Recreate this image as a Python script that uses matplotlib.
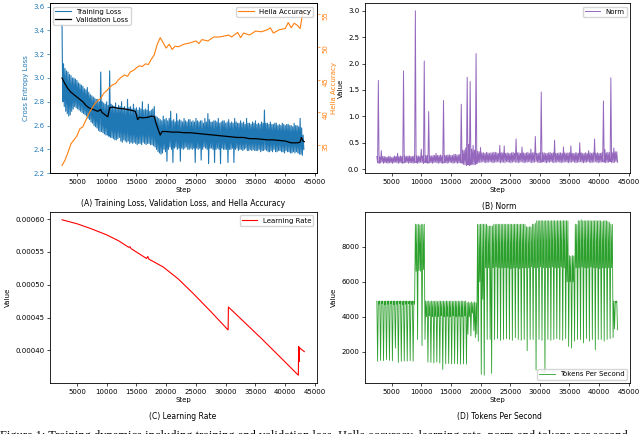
import numpy as np
import matplotlib
matplotlib.use("Agg")
import matplotlib.pyplot as plt
from matplotlib.ticker import MultipleLocator

# Logged metrics: "hi" samples at steps 2500, 2750, ... and "lo" samples 125 steps later.

# ---- (A) training loss
loss_hi = [
    3.45, 3.12, 3.08, 3.06, 3.05, 3.03, 3.02, 3.00,
    3.00, 2.99, 2.98, 2.96, 2.95, 2.94, 2.93, 2.91,
    2.90, 2.92, 2.88, 2.86, 2.85, 2.84, 2.83, 2.82,
    2.82, 2.80, 3.05, 2.80, 2.79, 2.78, 2.80, 2.77,
    3.06, 2.78, 2.77, 2.76, 2.79, 2.75, 2.77, 2.76,
    2.80, 2.75, 2.76, 2.74, 2.82, 2.75, 2.76, 2.74,
    2.78, 2.74, 2.75, 2.73, 2.75, 2.74, 2.80, 2.73,
    2.74, 2.73, 2.78, 2.72, 2.73, 2.74, 2.76, 2.68,
    2.67, 2.66, 2.65, 2.64, 2.68, 2.65, 2.66, 2.64,
    2.66, 2.72, 2.64, 2.65, 2.63, 2.70, 2.64, 2.65,
    2.64, 2.63, 2.66, 2.64, 2.63, 2.65, 2.65, 2.63,
    2.64, 2.63, 2.66, 2.64, 2.63, 2.64, 2.64, 2.62,
    2.66, 2.63, 2.70, 2.65, 2.63, 2.63, 2.64, 2.64,
    2.63, 2.66, 2.62, 2.63, 2.64, 2.64, 2.62, 2.63,
    2.65, 2.62, 2.63, 2.62, 2.66, 2.63, 2.62, 2.62,
    2.64, 2.62, 2.63, 2.61, 2.66, 2.62, 2.62, 2.61,
    2.63, 2.62, 2.64, 2.61, 2.62, 2.61, 2.63, 2.62,
    2.73, 2.62, 2.62, 2.61, 2.63, 2.61, 2.61, 2.62,
    2.62, 2.60, 2.61, 2.60, 2.62, 2.61, 2.60, 2.61,
    2.61, 2.60, 2.60, 2.59, 2.62, 2.60, 2.60, 2.59,
    2.66, 2.58, 2.52,
]
loss_lo = [
    2.80, 2.76, 2.72, 2.70, 2.68, 2.69, 2.72, 2.74,
    2.76, 2.75, 2.74, 2.73, 2.72, 2.71, 2.70, 2.69,
    2.68, 2.66, 2.65, 2.63, 2.62, 2.60, 2.59, 2.58,
    2.56, 2.55, 2.55, 2.54, 2.53, 2.52, 2.52, 2.51,
    2.50, 2.50, 2.49, 2.48, 2.48, 2.49, 2.50, 2.47,
    2.46, 2.48, 2.47, 2.46, 2.47, 2.45, 2.46, 2.45,
    2.46, 2.45, 2.44, 2.45, 2.45, 2.44, 2.46, 2.45,
    2.44, 2.45, 2.45, 2.44, 2.44, 2.43, 2.42, 2.40,
    2.38, 2.37, 2.36, 2.37, 2.40, 2.38, 2.30, 2.40,
    2.42, 2.40, 2.29, 2.41, 2.42, 2.40, 2.41, 2.30,
    2.41, 2.40, 2.41, 2.42, 2.40, 2.40, 2.41, 2.40,
    2.41, 2.29, 2.41, 2.40, 2.41, 2.31, 2.40, 2.42,
    2.41, 2.40, 2.28, 2.41, 2.41, 2.40, 2.29, 2.40,
    2.41, 2.40, 2.28, 2.41, 2.40, 2.40, 2.40, 2.29,
    2.40, 2.40, 2.41, 2.29, 2.40, 2.41, 2.39, 2.40,
    2.40, 2.39, 2.40, 2.41, 2.39, 2.39, 2.40, 2.39,
    2.40, 2.39, 2.39, 2.39, 2.40, 2.38, 2.39, 2.39,
    2.40, 2.39, 2.38, 2.38, 2.39, 2.38, 2.40, 2.38,
    2.38, 2.39, 2.39, 2.38, 2.38, 2.37, 2.39, 2.38,
    2.38, 2.37, 2.37, 2.38, 2.37, 2.38, 2.37, 2.36,
    2.36, 2.35, 2.40,
]

val_steps = [2500, 3000, 3500, 4000, 4500, 5000, 5500, 6000, 6500, 7000, 7500, 8000,
             8500, 9000, 9200, 9500, 10000, 10200, 10500, 11000, 12000, 13000, 14000,
             14800, 15000, 15200, 15500, 16000, 17000, 17500, 18000, 18300, 18700,
             19000, 19300, 20000, 21000, 22000, 23000, 24000, 25000, 26000, 27000,
             28000, 29000, 30000, 31000, 32000, 33000, 34000, 35000, 36000, 37000,
             38000, 39000, 40000, 41000, 42000, 42500, 42700, 43000, 43200]
val_loss = [3.00, 2.95, 2.91, 2.88, 2.86, 2.84, 2.82, 2.80, 2.77, 2.75, 2.74, 2.73,
            2.72, 2.735, 2.71, 2.70, 2.68, 2.675, 2.75, 2.755, 2.745, 2.74, 2.73,
            2.72, 2.69, 2.65, 2.67, 2.665, 2.67, 2.68, 2.675, 2.62, 2.56,
            2.52, 2.55, 2.55, 2.545, 2.545, 2.54, 2.54, 2.535, 2.53, 2.525,
            2.52, 2.515, 2.51, 2.505, 2.50, 2.50, 2.49, 2.49, 2.485, 2.48,
            2.48, 2.475, 2.47, 2.455, 2.455, 2.46, 2.50, 2.47, 2.465]

hella_steps = [2500, 3000, 3500, 4000, 4500, 5000, 5500, 6000, 6500, 7000, 7500, 8000,
               8500, 9000, 9500, 10000, 10500, 11000, 11500, 12000, 12500, 13000, 13500,
               14000, 14500, 15000, 15500, 16000, 16500, 17000, 17500, 18000, 18500,
               19000, 19500, 20000, 20500, 21000, 21500, 22000, 23000, 24000, 25000,
               25500, 26000, 27000, 28000, 29000, 30000, 30500, 31000, 32000, 32500,
               33000, 34000, 35000, 36000, 37000, 37500, 38000, 39000, 40000, 40500,
               41000, 41500, 42000, 42500, 43000]
hella_acc = [31.9, 32.7, 33.9, 35.2, 35.8, 36.4, 37.5, 37.8, 38.8, 39.8, 40.6, 41.3,
             41.8, 42.1, 42.9, 43.3, 43.8, 44.2, 44.4, 45.0, 45.4, 45.7, 45.5,
             46.2, 46.4, 46.8, 47.1, 47.0, 47.4, 47.3, 48.1, 48.8, 50.4,
             51.4, 50.6, 49.8, 50.4, 49.6, 50.1, 50.0, 50.4, 50.6, 50.9,
             50.5, 51.1, 50.9, 51.5, 51.5, 51.7, 51.8, 51.5, 52.2, 51.4,
             52.1, 51.8, 52.4, 52.3, 52.6, 52.9, 52.1, 52.6, 52.8, 53.7,
             52.9, 53.6, 53.3, 52.8, 55.5]

# ---- (B) norm
norm_hi = [
    0.24, 1.68, 0.23, 0.35, 0.24, 0.24, 0.23, 0.23,
    0.24, 0.24, 0.22, 0.23, 0.25, 0.24, 0.30, 0.24,
    0.25, 0.24, 1.86, 0.25, 0.24, 0.25, 0.25, 0.24,
    0.24, 0.25, 3.00, 0.25, 0.25, 0.24, 0.38, 0.25,
    2.05, 0.26, 0.26, 1.09, 0.25, 0.25, 0.26, 0.26,
    0.30, 0.26, 0.26, 0.27, 0.25, 1.30, 0.26, 0.26,
    0.27, 0.27, 0.26, 0.26, 0.28, 0.28, 0.27, 0.27,
    0.28, 1.23, 0.36, 0.36, 0.40, 1.74, 0.47, 1.66,
    0.38, 0.45, 0.36, 2.19, 0.34, 0.33, 0.41, 0.31,
    0.31, 0.30, 0.32, 0.31, 0.30, 0.31, 0.31, 0.32,
    0.32, 0.31, 0.30, 0.45, 0.31, 0.31, 0.44, 0.30,
    0.31, 0.30, 0.30, 0.31, 0.32, 0.30, 0.57, 0.31,
    0.31, 0.30, 0.42, 0.31, 0.30, 0.31, 0.32, 0.30,
    0.38, 0.31, 0.31, 0.62, 0.30, 0.30, 0.31, 1.46,
    0.31, 0.31, 0.30, 0.30, 0.31, 0.32, 0.30, 0.31,
    0.55, 0.30, 0.30, 0.31, 0.31, 0.30, 0.42, 0.31,
    0.30, 0.31, 0.31, 0.44, 0.30, 0.30, 0.31, 0.31,
    0.30, 0.50, 0.31, 0.30, 0.30, 0.31, 0.30, 0.35,
    0.31, 0.30, 0.31, 0.57, 0.30, 0.31, 0.30, 0.30,
    0.31, 1.29, 0.37, 0.31, 0.32, 0.31, 1.73, 0.31,
    0.40, 0.33, 0.33,
]
norm_lo = [
    0.12, 0.11, 0.12, 0.13, 0.11, 0.12, 0.12, 0.11,
    0.12, 0.12, 0.11, 0.12, 0.13, 0.12, 0.11, 0.12,
    0.12, 0.11, 0.12, 0.12, 0.13, 0.11, 0.12, 0.12,
    0.11, 0.12, 0.12, 0.11, 0.12, 0.13, 0.12, 0.11,
    0.12, 0.12, 0.11, 0.12, 0.12, 0.11, 0.12, 0.13,
    0.12, 0.11, 0.12, 0.12, 0.11, 0.12, 0.12, 0.11,
    0.12, 0.13, 0.12, 0.11, 0.12, 0.12, 0.11, 0.12,
    0.12, 0.11, 0.09, 0.08, 0.07, 0.08, 0.07, 0.08,
    0.09, 0.08, 0.09, 0.10, 0.13, 0.12, 0.13, 0.14,
    0.13, 0.12, 0.13, 0.13, 0.14, 0.13, 0.12, 0.13,
    0.13, 0.14, 0.13, 0.12, 0.13, 0.13, 0.12, 0.14,
    0.13, 0.13, 0.12, 0.13, 0.14, 0.13, 0.13, 0.12,
    0.13, 0.14, 0.13, 0.12, 0.13, 0.13, 0.14, 0.13,
    0.12, 0.13, 0.13, 0.14, 0.13, 0.12, 0.13, 0.13,
    0.14, 0.13, 0.12, 0.13, 0.13, 0.14, 0.13, 0.12,
    0.13, 0.13, 0.14, 0.13, 0.12, 0.13, 0.13, 0.14,
    0.13, 0.12, 0.13, 0.13, 0.14, 0.13, 0.12, 0.13,
    0.13, 0.14, 0.13, 0.12, 0.13, 0.13, 0.14, 0.13,
    0.12, 0.13, 0.13, 0.14, 0.13, 0.12, 0.13, 0.13,
    0.14, 0.13, 0.12, 0.13, 0.13, 0.14, 0.13, 0.12,
    0.13, 0.14, 0.13,
]

# ---- (C) learning rate
lr_steps = [2500, 5000, 7500, 10000, 12000, 13700, 13900, 14100, 16700, 16900, 17100,
            19500, 22000, 24500, 27500, 30400, 30450, 33000, 36000, 39000, 42200,
            42250, 42350, 42400, 42500, 43200]
lr_vals = [0.000599, 0.000593, 0.000585, 0.000576, 0.000567, 0.000557, 0.000558,
           0.000555, 0.000540, 0.000543, 0.000539, 0.000527, 0.000509, 0.000487,
           0.000459, 0.000431, 0.000466, 0.000444, 0.000418, 0.000391, 0.000362,
           0.000406, 0.000383, 0.000404, 0.000403, 0.000398]

# ---- (D) tokens per second
tps_hi = [
    4900, 4880, 4900, 4890, 4900, 4880, 4900, 4890,
    4900, 4880, 4900, 4890, 4900, 4880, 4900, 4890,
    4900, 4880, 4900, 4890, 4900, 4880, 4900, 4890,
    4900, 4880,
    9300, 9280, 9300, 9250, 9300, 9280, 9300,
    4900, 4880, 4900, 4870, 4900, 4890, 4880, 4900,
    4870, 4900, 4890, 4880, 4900, 4870, 4900, 4890,
    4880, 4900, 4870, 4900, 4890, 4880, 4900, 4870,
    4900, 4890, 4880, 4900,
    4800, 4850, 4800, 4850, 4800, 4850, 4800,
    9300, 9280, 9300, 9290, 9300, 9280, 9300,
    9200, 9180, 9200, 9190,
    9300, 9280, 9300, 9290, 9300, 9280, 9300, 9290,
    9300, 9280, 9300, 9290, 9300, 9280, 9300, 9290,
    9300, 9280, 9300, 9290, 9300, 9280,
    9150, 9130, 9150, 9140,
    9300, 9280, 9350,
    9500, 9480, 9500, 9490, 9500, 9480, 9500, 9490,
    9500, 9480, 9500, 9490, 9500, 9480, 9500, 9490,
    9500, 9480, 9500, 9490, 9500, 9480,
    7500, 7450, 7500, 7480,
    9300, 9280,
    9500, 9480, 9550, 9490, 9500, 9480, 9500, 9490,
    9500, 9480, 9500, 9490, 9500, 9480, 9500, 9490,
    9450, 9480, 9500, 9490, 9450, 9400,
    9300, 9280,
    4900, 4880, 4900,
]
tps_lo = [
    1450, 4720, 1500, 4750, 1480, 4700, 1550, 4720,
    1500, 4750, 1480, 4700, 2200, 4720, 1380, 4750,
    1450, 4700, 1470, 4720, 1460, 4750, 1480, 4700,
    1450, 4720,
    6600, 2700, 6650, 6600, 2350, 6700, 2700,
    4000, 1400, 4050, 1380, 4000, 1350, 4020, 1400,
    4000, 1350, 4050, 980, 4000, 1300, 4020, 1320,
    4000, 1300, 4050, 1320, 4000, 1300, 4020, 1280,
    4000, 1300, 4050, 1280,
    3000, 4000, 2900, 4200, 3200, 2800, 3000,
    2600, 6000, 700, 5000, 650, 6800, 2700, 6800,
    2700, 750, 6800, 2700, 6850, 2750, 6800, 2650,
    6800, 2700, 6800, 2750, 6800, 2700, 6750, 2650,
    6800, 2800, 6800, 2700, 6750, 2650, 6800, 2700,
    6800, 2050, 6800, 2700, 6850, 2700, 6800, 950,
    6800, 2700, 6850, 2650, 6800, 800, 6800, 2700,
    6800, 2650, 6850, 2700, 6800, 2750, 6800, 2700,
    6850, 2650, 6800, 2750, 6000, 2300, 6000, 2200,
    6000, 2600, 6800, 2700, 6800, 2700, 6850, 2500,
    6800, 2750, 6800, 2600, 6850, 2700, 6800, 2100,
    6800, 2700, 6750, 2700, 6800, 2600, 6800, 2700,
    6800, 2750, 6800, 2800,
    3300, 4800, 3250,
]


def interleave(hi, lo, start=2500, every=250):
    n = min(len(hi), len(lo))
    steps = np.column_stack([start + every * np.arange(n),
                             start + every * np.arange(n) + every // 2]).ravel()
    vals = np.column_stack([hi[:n], lo[:n]]).ravel()
    return steps, vals


train_steps, train_loss = interleave(loss_hi, loss_lo)
norm_steps, norm_vals = interleave(norm_hi, norm_lo)
tps_steps, tps_vals = interleave(tps_hi, tps_lo)

# ---- figure
plt.rcParams['font.size'] = 5
plt.rcParams['axes.linewidth'] = 0.6
plt.rcParams['xtick.major.size'] = 2
plt.rcParams['ytick.major.size'] = 2
plt.rcParams['xtick.major.width'] = 0.5
plt.rcParams['ytick.major.width'] = 0.5
plt.rcParams['xtick.major.pad'] = 2
plt.rcParams['ytick.major.pad'] = 2
plt.rcParams['legend.fontsize'] = 5

fig = plt.figure(figsize=(6.4, 4.34), dpi=100)
ax_a = fig.add_axes([0.078, 0.601, 0.417, 0.392])
ax_b = fig.add_axes([0.570, 0.601, 0.415, 0.392])
ax_c = fig.add_axes([0.078, 0.1175, 0.417, 0.394])
ax_d = fig.add_axes([0.570, 0.1175, 0.415, 0.394])

# (A)
ax_a.plot(train_steps, train_loss, color='#1f77b4', lw=0.8, label='Training Loss')
ax_a.plot(val_steps, val_loss, color='black', lw=0.9, label='Validation Loss')
ax_a.set_ylim(2.2, 3.63)
ax_a.set_ylabel('Cross Entropy Loss', color='#1f77b4', labelpad=3)
ax_a.tick_params(axis='y', colors='#1f77b4')
ax_a.set_xlabel('Step', labelpad=2)
ax_a.legend(loc='upper left', handlelength=2.2, borderpad=0.3, labelspacing=0.3)
ax_a2 = ax_a.twinx()
ax_a2.plot(hella_steps, hella_acc, color='#ff7f0e', lw=0.8, label='Hella Accuracy')
ax_a2.set_ylabel('Hella Accuracy', color='#ff7f0e', labelpad=2)
ax_a2.tick_params(axis='y', colors='#ff7f0e', labelrotation=90)
ax_a2.yaxis.set_major_locator(MultipleLocator(5))
ax_a2.legend(loc='upper right', handlelength=2.2, borderpad=0.3)

# (B)
ax_b.plot(norm_steps, norm_vals, color='#9467bd', lw=0.7, label='Norm')
ax_b.set_xlabel('Step', labelpad=2)
ax_b.set_ylabel('Value', labelpad=3)
ax_b.legend(loc='upper right', handlelength=2.2, borderpad=0.3)

# (C)
ax_c.plot(lr_steps, lr_vals, color='red', lw=0.8, label='Learning Rate')
ax_c.set_xlabel('Step', labelpad=2)
ax_c.set_ylabel('Value', labelpad=3)
ax_c.legend(loc='upper right', handlelength=2.2, borderpad=0.3)

# (D)
ax_d.plot(tps_steps, tps_vals, color='#2ca02c', lw=0.6, label='Tokens Per Second')
ax_d.set_xlabel('Step', labelpad=2)
ax_d.set_ylabel('Value', labelpad=3)
ax_d.legend(loc='lower right', handlelength=2.2, borderpad=0.3)

for ax in (ax_a, ax_b, ax_c, ax_d):
    ax.xaxis.set_major_locator(MultipleLocator(5000))
    ax.set_xlim(465, 45300)

fig.text(0.286, 0.530, '(A) Training Loss, Validation Loss, and Hella Accuracy',
         ha='center', va='center', fontsize=5.5)
fig.text(0.780, 0.525, '(B) Norm', ha='center', va='center', fontsize=5.5)
fig.text(0.286, 0.041, '(C) Learning Rate', ha='center', va='center', fontsize=5.5)
fig.text(0.780, 0.041, '(D) Tokens Per Second', ha='center', va='center', fontsize=5.5)

fig.text(0.0, -0.012, 'Figure 1: Training dynamics including training and validation loss, '
         'Hella accuracy, learning rate, norm and tokens per second.',
         ha='left', va='baseline', fontsize=9, family='Liberation Serif')

fig.savefig('out.png', dpi=100)
